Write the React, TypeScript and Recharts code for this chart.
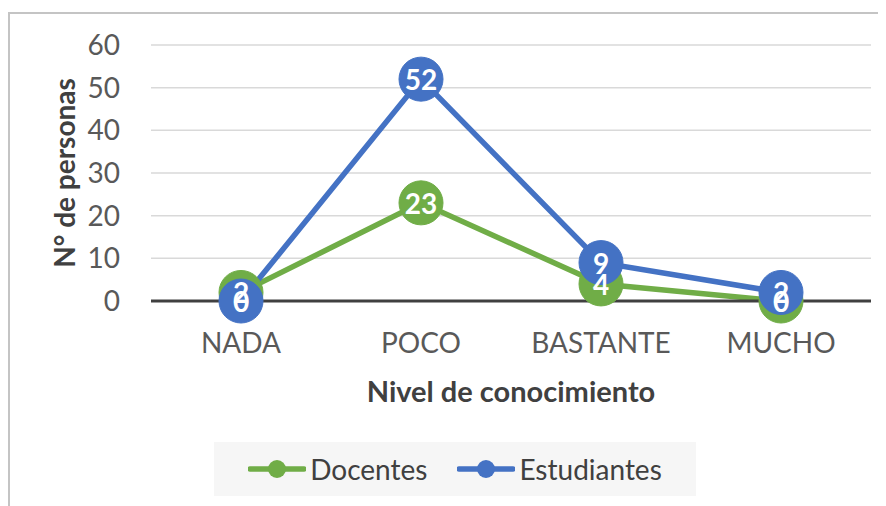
import React from 'react';
import { LineChart, Line, XAxis, YAxis, CartesianGrid, Legend, LabelList } from 'recharts';

const categories = ['NADA', 'POCO', 'BASTANTE', 'MUCHO'];
const docentes = [2, 23, 4, 0];
const estudiantes = [0, 52, 9, 2];
const yTicks = [0, 10, 20, 30, 40, 50, 60];

const data = categories.map((c, i) => ({ cat: c, Docentes: docentes[i], Estudiantes: estudiantes[i] }));

const FONT = 'Lato, "Open Sans", sans-serif';
const GREEN = '#70ad47';
const BLUE = '#4472c4';

const renderLabel = (props: any) => {
  const { x, y, value } = props;
  return (
    <text x={x} y={y} textAnchor="middle" dominantBaseline="central" fill="#ffffff" fontFamily={FONT} fontWeight={700} fontSize={28}>
      {value}
    </text>
  );
};

const renderDot = (color: string) => (props: any) => {
  const { cx, cy, index } = props;
  return <circle key={index} cx={cx} cy={cy} r={22} fill={color} stroke={color} strokeWidth={1} />;
};

const LegendContent = (props: any) => {
  const payload = (props.payload || []).filter((p: any) => p.type !== 'none');
  return (
    <div style={{ marginLeft: 206, width: 482, height: 54, background: '#f6f6f6', display: 'flex', alignItems: 'center', justifyContent: 'center', fontFamily: FONT, fontSize: 28, color: '#404040' }}>
      {payload.map((p: any, i: number) => (
        <div key={i} style={{ display: 'flex', alignItems: 'center', marginRight: i === 0 ? 30 : 0 }}>
          <svg width={58} height={20} style={{ marginRight: 4 }}>
            <line x1={2} y1={10} x2={56} y2={10} stroke={p.color} strokeWidth={5.5} strokeLinecap="round" />
            <circle cx={29} cy={10} r={9} fill={p.color} />
          </svg>
          <span>{p.value}</span>
        </div>
      ))}
    </div>
  );
};

export default function App() {
  return (
    <div style={{ position: 'relative', width: 878, height: 498, overflow: 'hidden', background: '#fff' }}>
      <div style={{ position: 'absolute', left: 0, top: 4, width: 1000, height: 1000, border: '2px solid #c4c4c4', boxSizing: 'border-box' }} />
      <div style={{ position: 'absolute', left: 0, top: 0 }}>
        <LineChart width={878} height={498} data={data} margin={{ top: 37, right: 15, left: 0, bottom: 10 }}>
          <CartesianGrid horizontal vertical={false} stroke="#d9d9d9" strokeWidth={1.5} />
          <XAxis
            dataKey="cat"
            height={141}
            padding={{ left: 90, right: 90 }}
            tickLine={false}
            tickSize={0}
            tickMargin={32}
            axisLine={{ stroke: '#404040', strokeWidth: 3 }}
            tick={{ fill: '#595959', fontSize: 28, fontFamily: FONT }}
            label={{ value: 'Nivel de conocimiento', position: 'insideTop', offset: 80, fill: '#404040', fontSize: 29, fontWeight: 700, fontFamily: FONT }}
          />
          <YAxis
            width={143}
            domain={[0, 60]}
            ticks={yTicks}
            axisLine={false}
            tickLine={false}
            tickSize={0}
            tickMargin={31}
            tick={{ fill: '#595959', fontSize: 28, fontFamily: FONT }}
            label={{ value: 'N° de personas', angle: -90, position: 'insideLeft', offset: 57, fill: '#404040', fontSize: 28, fontWeight: 700, fontFamily: FONT, style: { textAnchor: 'middle' } }}
          />
          <Legend verticalAlign="bottom" height={54} wrapperStyle={{ left: 0, width: 878 }} content={<LegendContent />} />
          <Line dataKey="Docentes" stroke={GREEN} strokeWidth={5.5} dot={renderDot(GREEN)} activeDot={false} isAnimationActive={false} />
          <Line dataKey="Estudiantes" stroke={BLUE} strokeWidth={5.5} dot={renderDot(BLUE)} activeDot={false} isAnimationActive={false} />
          <Line dataKey="Docentes" stroke="none" dot={false} activeDot={false} legendType="none" isAnimationActive={false}>
            <LabelList dataKey="Docentes" content={renderLabel} />
          </Line>
          <Line dataKey="Estudiantes" stroke="none" dot={false} activeDot={false} legendType="none" isAnimationActive={false}>
            <LabelList dataKey="Estudiantes" content={renderLabel} />
          </Line>
        </LineChart>
      </div>
    </div>
  );
}
